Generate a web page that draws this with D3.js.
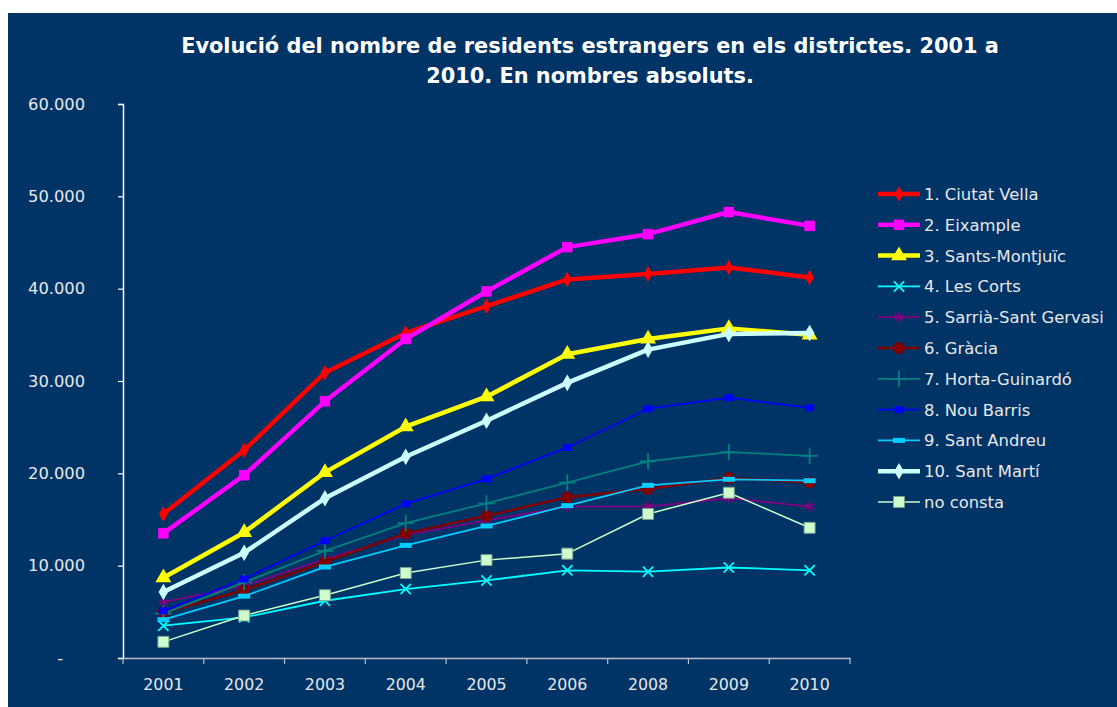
<!DOCTYPE html>
<html>
<head>
<meta charset="utf-8">
<script src="https://cdn.jsdelivr.net/npm/d3@7"></script>
<style>
  body { margin: 0; background: #ffffff; }
  svg { display: block; }
  text { font-family: "DejaVu Sans", Verdana, sans-serif; }
</style>
</head>
<body>
<div class="chart"></div>
<script>
// Data
const years = ['2001', '2002', '2003', '2004', '2005', '2006', '2008', '2009', '2010']
const yTicks = [0, 10000, 20000, 30000, 40000, 50000, 60000]

const ciutatVella   = [15600, 22500, 30900, 35200, 38100, 41000, 41600, 42300, 41200]
const eixample      = [13500, 19800, 27800, 34550, 39700, 44500, 45900, 48300, 46800]
const santsMontjuic = [8700, 13600, 20100, 25050, 28300, 32900, 34550, 35700, 35000]
const lesCorts      = [3500, 4400, 6200, 7470, 8400, 9500, 9350, 9800, 9500]
const sarria        = [6050, 7800, 10700, 13300, 14900, 16400, 16400, 17300, 16400]
const gracia        = [4900, 7360, 10400, 13500, 15400, 17400, 18300, 19500, 19000]
const horta         = [4800, 8200, 11600, 14600, 16750, 19000, 21300, 22300, 21900]
const nouBarris     = [5100, 8560, 12700, 16700, 19400, 22800, 27000, 28200, 27100]
const santAndreu    = [4150, 6700, 9860, 12200, 14300, 16500, 18700, 19350, 19200]
const santMarti     = [7150, 11400, 17300, 21800, 25700, 29800, 33400, 35100, 35200]
const noConsta      = [1750, 4600, 6800, 9200, 10600, 11300, 15600, 17900, 14100]

const seriesNames = ['1. Ciutat Vella', '2. Eixample', '3. Sants-Montjuïc', '4. Les Corts',
  '5. Sarrià-Sant Gervasi', '6. Gràcia', '7. Horta-Guinardó', '8. Nou Barris',
  '9. Sant Andreu', '10. Sant Martí', 'no consta']
const seriesValues = [ciutatVella, eixample, santsMontjuic, lesCorts, sarria, gracia,
  horta, nouBarris, santAndreu, santMarti, noConsta]

// styles per series
const styles = [
  { color: '#ff0000', width: 4.5, marker: 'diamond', size: 70 },
  { color: '#ff00ff', width: 4.5, marker: 'square', size: 110 },
  { color: '#ffff00', width: 4.5, marker: 'triangle', size: 110 },
  { color: '#00ffff', width: 1.8, marker: 'x', size: 70 },
  { color: '#800080', width: 1.8, marker: 'asterisk', size: 80 },
  { color: '#800000', width: 2.5, marker: 'circle', size: 110 },
  { color: '#008080', width: 1.8, marker: 'plus', size: 90 },
  { color: '#0000ff', width: 1.8, marker: 'rect', w: 9, h: 7 },
  { color: '#00ccff', width: 1.8, marker: 'rect', w: 12, h: 5 },
  { color: '#ccffff', width: 4.5, marker: 'diamond', size: 80 },
  { color: '#ccffcc', width: 1.5, marker: 'square', size: 120, outline: '#7f9f8f' }
]

const symbolTypes = {
  diamond: d3.symbolDiamond,
  square: d3.symbolSquare,
  triangle: d3.symbolTriangle,
  x: d3.symbolX,
  asterisk: d3.symbolAsterisk,
  circle: d3.symbolCircle,
  plus: d3.symbolPlus
}
const strokeMarkers = ['x', 'asterisk', 'plus']

const width = 1117
const height = 707
const plot = { left: 123, right: 850, top: 104, bottom: 658 }

const svg = d3.select('.chart')
  .append('svg')
  .attr('width', width)
  .attr('height', height)

svg.append('rect')
  .attr('x', 8).attr('y', 13)
  .attr('width', width - 8).attr('height', height - 13)
  .attr('fill', '#003366')

// title
const titleLines = ['Evolució del nombre de residents estrangers en els districtes. 2001 a',
  '2010. En nombres absoluts.']
const title = svg.append('g')
titleLines.forEach((t, i) => {
  title.append('text')
    .attr('x', 590)
    .attr('y', 53 + i * 30)
    .attr('text-anchor', 'middle')
    .attr('fill', '#ffffff')
    .attr('font-weight', 'bold')
    .attr('font-size', 18)
    .text(t)
})
// fit first line to width seen in the picture
const tw = title.select('text').node().getComputedTextLength()
title.selectAll('text').attr('font-size', 18 * 818 / tw)

// scales
const xScale = d3.scaleBand()
  .domain(years)
  .range([plot.left, plot.right])

const yScale = d3.scaleLinear()
  .domain([0, 60000])
  .range([plot.bottom, plot.top])

const loc = d3.formatLocale({ decimal: ',', thousands: '.', grouping: [3], currency: ['', ''] })
const fmt = loc.format(',d')

// y axis
const yAxis = d3.axisLeft(yScale)
  .tickValues(yTicks)
  .tickSize(5)
  .tickPadding(33)
  .tickFormat(d => d === 0 ? '-' : fmt(d))

const yAxisGroup = svg.append('g')
  .attr('transform', `translate(${plot.left},0)`)
  .call(yAxis)
yAxisGroup.select('.domain').attr('stroke', '#ffffff').attr('stroke-width', 1.5)
yAxisGroup.selectAll('.tick line').attr('stroke', '#ffffff').attr('stroke-width', 1.2)
yAxisGroup.selectAll('.tick text')
  .attr('fill', '#e8e8e8')
  .attr('font-size', 16.3)
  .attr('font-family', '"DejaVu Sans", Verdana, sans-serif')
  .filter(d => d === 0)
  .attr('dx', -22)

// x axis
const xAxis = d3.axisBottom(xScale)
  .tickSize(0)
  .tickPadding(21)

const xAxisGroup = svg.append('g')
  .attr('transform', `translate(0,${plot.bottom})`)
  .call(xAxis)
xAxisGroup.select('.domain').attr('stroke', '#b8c0cc').attr('stroke-width', 1.5)
xAxisGroup.selectAll('.tick text')
  .attr('fill', '#e8e8e8')
  .attr('font-size', 15.8)
  .attr('font-family', '"DejaVu Sans", Verdana, sans-serif')

// category boundary ticks
const bounds = years.map(y => xScale(y)).concat([plot.right])
xAxisGroup.selectAll('.bound')
  .data(bounds)
  .join('line')
  .attr('x1', d => d).attr('x2', d => d)
  .attr('y1', 0).attr('y2', 6)
  .attr('stroke', '#b8c0cc')
  .attr('stroke-width', 1.2)

// marker drawing
function drawMarker(sel, st) {
  if (st.marker === 'rect') {
    sel.append('rect')
      .attr('x', -st.w / 2).attr('y', -st.h / 2)
      .attr('width', st.w).attr('height', st.h)
      .attr('fill', st.color)
  } else if (strokeMarkers.includes(st.marker)) {
    sel.append('path')
      .attr('d', d3.symbol(symbolTypes[st.marker], st.size)())
      .attr('fill', 'none')
      .attr('stroke', st.color)
      .attr('stroke-width', 1.8)
  } else {
    sel.append('path')
      .attr('d', d3.symbol(symbolTypes[st.marker], st.size)())
      .attr('fill', st.color)
      .attr('stroke', st.outline || 'none')
      .attr('stroke-width', st.outline ? 1 : 0)
  }
}

const lineGen = d3.line()
  .x((d, i) => xScale(years[i]) + xScale.bandwidth() / 2)
  .y(d => yScale(d))

const lines = svg.append('g').classed('lines', true)
seriesValues.forEach((vals, k) => {
  const st = styles[k]
  const g = lines.append('g')
  g.append('path')
    .datum(vals)
    .attr('d', lineGen)
    .attr('fill', 'none')
    .attr('stroke', st.color)
    .attr('stroke-width', st.width)
    .attr('stroke-linejoin', 'round')
  vals.forEach((v, i) => {
    const m = g.append('g')
      .attr('transform', `translate(${xScale(years[i]) + xScale.bandwidth() / 2},${yScale(v)})`)
    drawMarker(m, st)
  })
})

// legend
const legend = svg.append('g').classed('legend', true)
seriesNames.forEach((name, k) => {
  const st = styles[k]
  const ly = 194 + k * 30.8
  const row = legend.append('g').attr('transform', `translate(0,${ly})`)
  row.append('line')
    .attr('x1', 878).attr('x2', 920)
    .attr('stroke', st.color)
    .attr('stroke-width', st.width)
  const m = row.append('g').attr('transform', 'translate(899,0)')
  drawMarker(m, st)
  row.append('text')
    .attr('x', 924)
    .attr('y', 0)
    .attr('dy', '0.36em')
    .attr('fill', '#e8e8e8')
    .attr('font-size', 16.4)
    .text(name)
})
</script>
</body>
</html>
